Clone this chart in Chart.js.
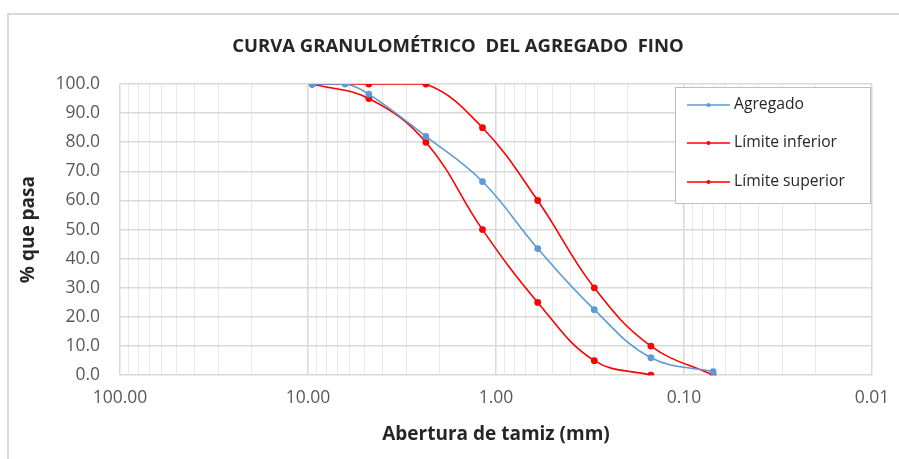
<!DOCTYPE html>
<html>
<head>
<meta charset="utf-8">
<script src="https://cdn.jsdelivr.net/npm/chart.js@4.4.1/dist/chart.umd.min.js"></script>
<style>
  html, body { margin: 0; padding: 0; background: #fff; }
  #wrap { position: relative; width: 899px; height: 459px; overflow: hidden; }
  #frame { position: absolute; left: 7px; top: 13px; width: 1000px; height: 1000px;
           border-left: 2px solid #d9d9d9; border-top: 2px solid #d9d9d9; }
  canvas { position: absolute; left: 0; top: 0; }
</style>
</head>
<body>
<div id="wrap">
  <div id="frame"></div>
  <canvas id="gradChart" width="899" height="459"></canvas>
</div>
<script>
// Sieve openings (mm) and % passing
const aggSizes = [9.5, 6.35, 4.75, 2.36, 1.18, 0.6, 0.3, 0.15, 0.07];
const aggPass  = [100, 100, 96.5, 82, 66.5, 43.5, 22.5, 6, 1.2];

const infSizes = [9.5, 4.75, 2.36, 1.18, 0.6, 0.3, 0.15];
const infPass  = [100, 95, 80, 50, 25, 5, 0];

const supSizes = [9.5, 4.75, 2.36, 1.18, 0.6, 0.3, 0.15, 0.07];
const supPass  = [100, 100, 100, 85, 60, 30, 10, 0];

const seriesNames = ["Agregado", "Límite inferior", "Límite superior"];
const decades = [100, 10, 1, 0.1, 0.01];
const xTickLabels = ["100.00", "10.00", "1.00", "0.10", "0.01"];
const chartTitle = "CURVA GRANULOMÉTRICO  DEL AGREGADO  FINO";

const FONT = "'Open Sans', Lato, sans-serif";
const BLUE = "#5b9bd5";
const RED = "#ff0000";

function toPoints(xs, ys) {
  return xs.map((x, i) => ({ x, y: ys[i] }));
}

function isDecade(v) {
  return decades.some((d) => Math.abs(d - v) < d * 1e-6);
}

// Title is a little right of the canvas centre in the original, so draw it here
const titleText = {
  id: "titleText",
  afterDraw(chart) {
    const { ctx } = chart;
    ctx.save();
    ctx.fillStyle = "#262626";
    ctx.font = "bold 18.5px " + FONT;
    ctx.textAlign = "center";
    ctx.textBaseline = "middle";
    ctx.fillText(chartTitle, 458, 47);
    ctx.restore();
  }
};

// Legend drawn inside the plot area, top right (Excel style)
const insideLegend = {
  id: "insideLegend",
  afterDraw(chart) {
    const { ctx } = chart;
    const box = { x: 675, y: 87, w: 195, h: 116 };
    ctx.save();
    ctx.fillStyle = "#ffffff";
    ctx.fillRect(box.x, box.y, box.w, box.h);
    ctx.strokeStyle = "#bfbfbf";
    ctx.lineWidth = 1;
    ctx.strokeRect(box.x + 0.5, box.y + 0.5, box.w, box.h);
    const rows = [105, 143, 182];
    chart.data.datasets.forEach((ds, i) => {
      const yy = rows[i];
      ctx.strokeStyle = ds.borderColor;
      ctx.lineWidth = 1.5;
      ctx.beginPath();
      ctx.moveTo(687, yy);
      ctx.lineTo(730, yy);
      ctx.stroke();
      ctx.fillStyle = ds.borderColor;
      ctx.beginPath();
      ctx.arc(708.5, yy, 2, 0, Math.PI * 2);
      ctx.fill();
      ctx.fillStyle = "#262626";
      ctx.font = "15.7px " + FONT;
      ctx.textBaseline = "middle";
      ctx.textAlign = "left";
      ctx.fillText(seriesNames[i], 734, yy);
    });
    ctx.restore();
  }
};

function makeDataset(label, xs, ys, color) {
  return {
    label,
    data: toPoints(xs, ys),
    borderColor: color,
    backgroundColor: color,
    borderWidth: 1.6,
    pointRadius: 2.6,
    pointHoverRadius: 3,
    tension: 0.4,
    fill: false
  };
}

new Chart(document.getElementById("gradChart").getContext("2d"), {
  type: "line",
  data: {
    datasets: [
      makeDataset(seriesNames[0], aggSizes, aggPass, BLUE),
      makeDataset(seriesNames[1], infSizes, infPass, RED),
      makeDataset(seriesNames[2], supSizes, supPass, RED)
    ]
  },
  options: {
    responsive: false,
    animation: false,
    layout: { padding: { left: 0, right: 27, top: 84, bottom: 13 } },
    plugins: {
      legend: { display: false },
      tooltip: { enabled: false },
      title: { display: false }
    },
    scales: {
      x: {
        type: "logarithmic",
        reverse: true,
        min: 0.01,
        max: 100,
        afterBuildTicks(scale) {
          const ticks = [];
          for (let e = -2; e <= 1; e++) {
            for (let m = 1; m <= 9; m++) ticks.push({ value: m * Math.pow(10, e) });
          }
          ticks.push({ value: 100 });
          scale.ticks = ticks;
        },
        ticks: {
          autoSkip: false,
          maxRotation: 0,
          padding: 12.5,
          color: "#595959",
          font: { family: FONT, size: 17.5 },
          callback(value) {
            const idx = decades.findIndex((d) => Math.abs(d - value) < d * 1e-6);
            return idx >= 0 ? xTickLabels[idx] : "";
          }
        },
        grid: {
          drawTicks: false,
          color: (c) => (c.tick && isDecade(c.tick.value) ? "#d9d9d9" : "#e8e8e8"),
          lineWidth: (c) => (c.tick && isDecade(c.tick.value) ? 1.5 : 1)
        },
        border: { display: false },
        title: {
          display: true,
          text: "Abertura de tamiz (mm)",
          color: "#262626",
          font: { family: FONT, size: 19, weight: "bold" },
          padding: { top: 2, bottom: 0 }
        }
      },
      y: {
        min: 0,
        max: 100,
        afterFit(scale) { scale.width = 120; },
        ticks: {
          stepSize: 10,
          padding: 20,
          color: "#595959",
          font: { family: FONT, size: 17.5 },
          callback: (v) => v.toFixed(1)
        },
        grid: { drawTicks: false, color: "#d9d9d9", lineWidth: 1.5 },
        border: { display: false },
        title: {
          display: true,
          text: "% que pasa",
          color: "#262626",
          font: { family: FONT, size: 19, weight: "bold" },
          padding: { top: 17, bottom: 0 }
        }
      }
    }
  },
  plugins: [titleText, insideLegend]
});
</script>
</body>
</html>
